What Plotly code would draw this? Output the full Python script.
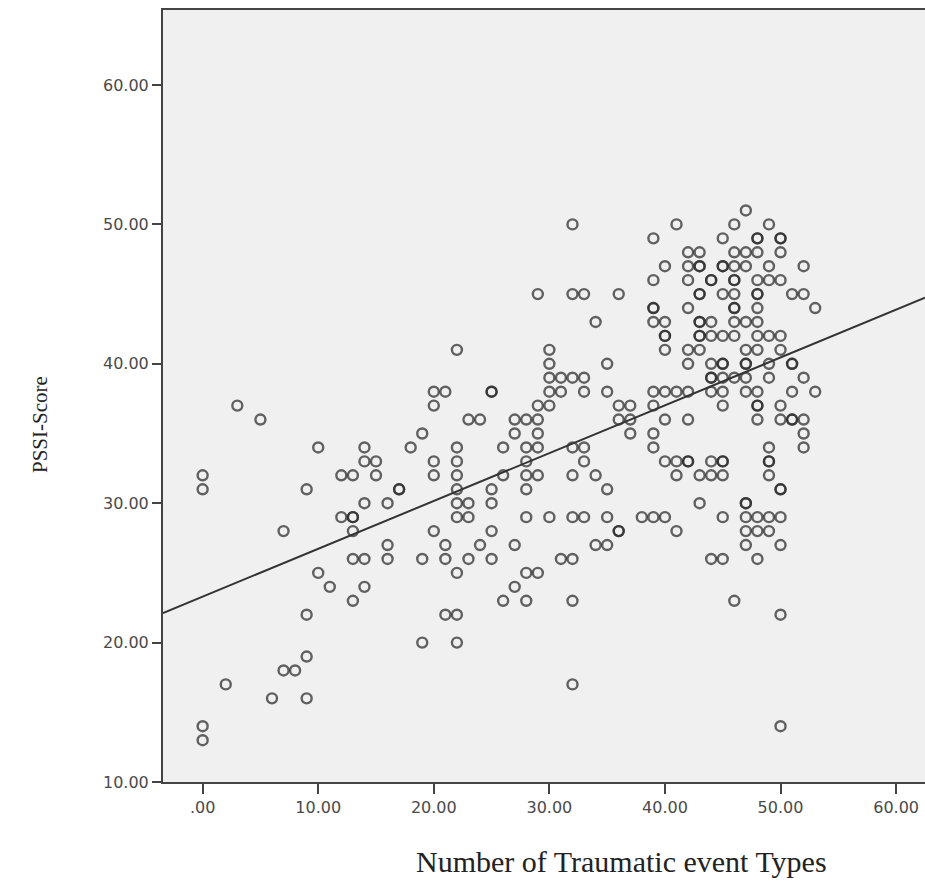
import plotly.graph_objects as go

# Number of traumatic event types (x levels) and the PSSI scores observed at each level
type_levels = [
    0, 2, 3, 5, 6, 7, 8, 9, 10, 11, 12, 13, 14, 15, 16, 17, 18, 19, 20, 21,
    22, 23, 24, 25, 26, 27, 28, 29, 30, 31, 32, 33, 34, 35, 36, 37, 38, 39,
    40, 41, 42, 43, 44, 45, 46, 47, 48, 49, 50, 51, 52, 53,
]
scores_per_level = [
    [32, 31, 14, 13],                                   # 0
    [17],                                               # 2
    [37],                                               # 3
    [36],                                               # 5
    [16],                                               # 6
    [28, 18],                                           # 7
    [18],                                               # 8
    [31, 22, 19, 16],                                   # 9
    [34, 25],                                           # 10
    [24],                                               # 11
    [32, 29],                                           # 12
    [32, 29, 29, 28, 26, 23],                           # 13
    [34, 33, 30, 26, 24],                               # 14
    [33, 32],                                           # 15
    [30, 27, 26],                                       # 16
    [31, 31],                                           # 17
    [34],                                               # 18
    [35, 26, 20],                                       # 19
    [38, 37, 33, 32, 28],                               # 20
    [38, 27, 26, 22],                                   # 21
    [41, 34, 33, 32, 31, 30, 29, 25, 22, 20],           # 22
    [36, 30, 29, 26],                                   # 23
    [36, 27],                                           # 24
    [38, 38, 31, 30, 28, 26],                           # 25
    [34, 32, 23],                                       # 26
    [36, 35, 27, 24],                                   # 27
    [36, 34, 33, 32, 31, 29, 25, 23],                   # 28
    [45, 37, 36, 35, 34, 32, 25],                       # 29
    [41, 40, 39, 38, 37, 29],                           # 30
    [39, 38, 26],                                       # 31
    [50, 45, 39, 34, 32, 29, 26, 23, 17],               # 32
    [45, 39, 38, 34, 33, 29],                           # 33
    [43, 32, 27],                                       # 34
    [40, 38, 31, 29, 27],                               # 35
    [45, 37, 36, 28, 28],                               # 36
    [37, 36, 35],                                       # 37
    [29],                                               # 38
    [49, 46, 44, 44, 43, 38, 37, 35, 34, 29],           # 39
    [47, 43, 42, 42, 41, 38, 36, 33, 29],               # 40
    [50, 38, 33, 32, 28],                               # 41
    [48, 47, 46, 44, 41, 40, 38, 36, 33, 33],           # 42
    [48, 47, 47, 45, 45, 43, 43, 42, 42, 41, 32, 30],   # 43
    [46, 46, 43, 42, 40, 39, 39, 38, 33, 32, 26],       # 44
    [49, 47, 47, 45, 42, 40, 40, 39, 38, 37, 33, 33, 32, 29, 26],  # 45
    [50, 48, 47, 46, 46, 45, 44, 44, 43, 42, 39, 23],   # 46
    [51, 48, 47, 43, 41, 40, 40, 39, 38, 30, 30, 29, 28, 27],      # 47
    [49, 49, 48, 46, 45, 45, 44, 43, 42, 41, 38, 37, 37, 36, 29, 28, 26],  # 48
    [50, 47, 46, 42, 40, 39, 34, 33, 33, 32, 29, 28],   # 49
    [49, 49, 48, 46, 42, 41, 37, 36, 31, 31, 29, 27, 22, 14],      # 50
    [45, 40, 40, 38, 36, 36],                           # 51
    [47, 45, 39, 36, 35, 34],                           # 52
    [44, 38],                                           # 53
]

# Fit line (PSSI = intercept + slope * types)
fit_intercept = 23.3
fit_slope = 0.343

x_range = [-3.43, 62.5]
y_range = [10, 65.38]

x_tick_values = [0, 10, 20, 30, 40, 50, 60]
x_tick_labels = [".00", "10.00", "20.00", "30.00", "40.00", "50.00", "60.00"]
y_tick_values = [10, 20, 30, 40, 50, 60]
y_tick_labels = ["10.00", "20.00", "30.00", "40.00", "50.00", "60.00"]

xs, ys = [], []
for level, scores in zip(type_levels, scores_per_level):
    for s in scores:
        xs.append(level)
        ys.append(s)

fig = go.Figure()
fig.add_trace(go.Scatter(
    x=xs, y=ys, mode="markers",
    marker=dict(symbol="circle-open", size=10, color="rgba(40,40,40,0.72)",
                line=dict(width=2.4)),
    hoverinfo="x+y", showlegend=False, cliponaxis=True,
))
fig.add_trace(go.Scatter(
    x=x_range,
    y=[fit_intercept + fit_slope * v for v in x_range],
    mode="lines", line=dict(color="#333333", width=2), showlegend=False,
))

fig.update_layout(
    width=925, height=884,
    margin=dict(l=163, r=0, t=10, b=102, autoexpand=False),
    paper_bgcolor="white", plot_bgcolor="#f0f0f0",
    font=dict(family="DejaVu Sans", size=16, color="#4a4a4a"),
    xaxis=dict(range=x_range, tickvals=x_tick_values, ticktext=x_tick_labels,
               automargin=False, showgrid=False, zeroline=False, showline=True,
               linecolor="#444444", linewidth=2, mirror=True, ticks="outside",
               ticklen=10, tickwidth=2, tickcolor="#444444"),
    yaxis=dict(range=y_range, tickvals=y_tick_values, ticktext=y_tick_labels,
               automargin=False, showgrid=False, zeroline=False, showline=True,
               linecolor="#444444", linewidth=2, ticks="outside", ticklen=9,
               tickwidth=2, tickcolor="#444444"),
    annotations=[
        dict(text="Number of Traumatic event Types", xref="paper", yref="paper",
             x=(621 - 163) / 762, y=-(862 - 782) / 772, xanchor="center",
             yanchor="middle", showarrow=False,
             font=dict(family="Liberation Serif", size=30, color="#222222")),
        dict(text="PSSI-Score", xref="paper", yref="paper",
             x=-(163 - 40) / 762, y=(782 - 425) / 772, xanchor="center",
             yanchor="middle", textangle=-90, showarrow=False,
             font=dict(family="Liberation Serif", size=21, color="#222222")),
    ],
)

fig.write_html(
    "out.html",
    config={"displayModeBar": False},
    post_script="document.body.style.margin='0';document.body.style.overflow='hidden';",
)
